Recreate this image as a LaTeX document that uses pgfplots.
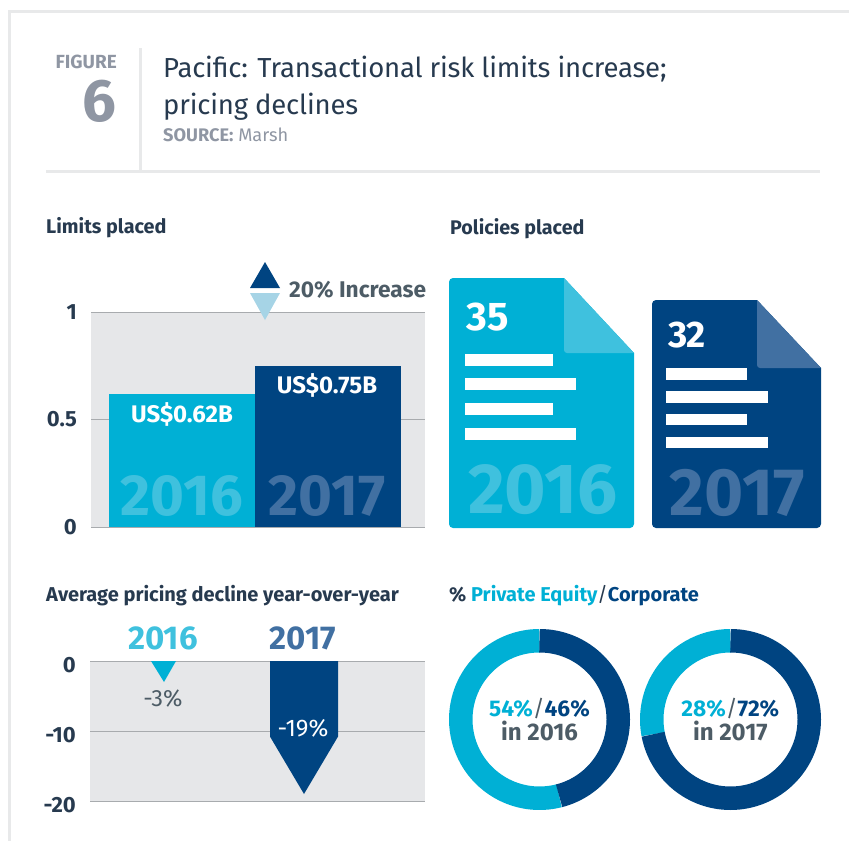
\documentclass[border=0pt]{standalone}
\usepackage{fontspec}
\setmainfont{Fira Sans}
\usepackage{pgfplots}
\pgfplotsset{compat=1.18}

\definecolor{pe}{HTML}{00B0D5}
\definecolor{corp}{HTML}{004481}
\definecolor{pelight}{HTML}{3FC1DE}
\definecolor{corplight}{HTML}{4170A2}
\definecolor{paleblue}{HTML}{A6D4E6}
\definecolor{ink}{HTML}{273A4F}
\definecolor{slate}{HTML}{4D5C66}
\definecolor{figgrey}{HTML}{8F96A3}
\definecolor{rulegrey}{HTML}{E8E9EA}
\definecolor{panel}{HTML}{E6E7E9}
\definecolor{gridgrey}{HTML}{A8ABAE}

\newcommand{\fs}[1]{\fontsize{#1}{#1}\selectfont}

\pgfplotsset{
  panel axis/.style={
    scale only axis, anchor=south west, axis on top=false,
    axis line style={draw=none}, major tick length=0pt,
    xtick=\empty, ymajorgrids,
    grid style={gridgrey, line width=1pt},
    axis background/.style={fill=panel},
    yticklabel style={font=\fs{22}\bfseries, text=ink, inner sep=0pt, xshift=-14pt},
  },
  ring axis/.style={
    scale only axis, anchor=south west, hide axis, clip=false,
    width=181pt, height=181pt,
    xmin=-90.5, xmax=90.5, ymin=-90.5, ymax=90.5,
  },
}

\tikzset{
  num/.style={inner sep=0pt, text depth=0pt, anchor=center},
  head/.style={inner sep=0pt, anchor=base west},
}

\begin{document}
\begin{tikzpicture}[x=1pt, y=-1pt]
\path[use as bounding box] (0,0) rectangle (849,841);

% frame and header rules
\fill[rulegrey] (8,10) rectangle (11,841);
\fill[rulegrey] (8,10) rectangle (849,13);
\fill[rulegrey] (139,48) rectangle (142,172);
\fill[rulegrey] (46,170) rectangle (820,173);

% header text
\node[inner sep=0pt, anchor=base east, text=figgrey] at (117,68) {\fs{19}\bfseries FIGURE};
\node[inner sep=0pt, anchor=base east, text=figgrey] at (117,121) {\fs{60}\bfseries 6};
\node[head, text=ink] at (163,77) {\fs{27.5}\addfontfeatures{LetterSpace=-0.7}Pacific: Transactional risk limits increase;};
\node[head, text=ink] at (163,114) {\fs{27.5}\addfontfeatures{LetterSpace=-0.7}pricing declines};
\node[head, text=figgrey] at (163,141) {\fs{18.2}\textbf{SOURCE:} Marsh};

% section headings
\node[head, text=ink] at (46,233) {\fs{19.8}\bfseries Limits placed};
\node[head, text=ink] at (450,234) {\fs{19.7}\bfseries Policies placed};
\node[head, text=ink] at (46,601) {\fs{20}\bfseries Average pricing decline year-over-year};
\node[head, text=ink] at (449,601) {\fs{20}\bfseries \% \textcolor{pe}{Private Equity}\textcolor{ink}{\mdseries/}\textcolor{corp}{Corporate}};

% limits placed
\begin{axis}[panel axis, at={(91pt,-527pt)}, width=334pt, height=215pt,
    xmin=0, xmax=334, ymin=0, ymax=1,
    ytick={0,0.5,1}, yticklabels={0,0.5,1}]
\addplot[ybar, bar width=146pt, fill=pe, draw=none] coordinates {(91,0.62)};
\addplot[ybar, bar width=146pt, fill=corp, draw=none] coordinates {(237,0.75)};
\end{axis}
\node[num, text=white] at (182,413) {\fs{24}\bfseries US\$0.62B};
\node[num, text=white] at (327,384) {\fs{24}\bfseries US\$0.75B};
\node[num, text=pelight] at (182,495) {\fs{58}\bfseries 2016};
\node[num, text=corplight] at (327,495) {\fs{58}\bfseries 2017};

% increase marker
\fill[corp] (250,288) -- (280,288) -- (265,262) -- cycle;
\fill[paleblue] (250,293) -- (280,293) -- (265,320) -- cycle;
\node[inner sep=0pt, anchor=base west, text=slate] at (289,297) {\fs{22.7}\bfseries 20\% Increase};

% policies placed
\fill[pe] (564,278) -- (634,353) -- (634,510) [rounded corners=4pt] -- (634,528) -- (449,528) -- (449,278) -- (530,278) [sharp corners] -- cycle;
\fill[pelight] (564,278) -- (634,353) [rounded corners=3pt] -- (564,353) [sharp corners] -- cycle;
\fill[white] (465,354) rectangle (553,366);
\fill[white] (465,378) rectangle (576,390);
\fill[white] (465,403) rectangle (553,415);
\fill[white] (465,428) rectangle (576,440);
\node[num, text=white] at (488,317) {\fs{40}\bfseries 35};
\node[num, text=pelight] at (543,489) {\fs{71}\bfseries 2016};

\fill[corp] (757,300) -- (821,368) -- (821,510) [rounded corners=4pt] -- (821,528) -- (652,528) -- (652,300) -- (720,300) [sharp corners] -- cycle;
\fill[corplight] (757,300) -- (821,368) [rounded corners=3pt] -- (757,368) [sharp corners] -- cycle;
\fill[white] (666,368) rectangle (747,380);
\fill[white] (666,391) rectangle (768,403);
\fill[white] (666,414) rectangle (747,425);
\fill[white] (666,437) rectangle (768,448);
\node[num, text=white] at (687,335) {\fs{37}\bfseries 32};
\node[num, text=corplight] at (737,492) {\fs{67}\bfseries 2017};

% average pricing decline
\begin{axis}[panel axis, at={(90pt,-801pt)}, width=335pt, height=140pt,
    xmin=0, xmax=335, ymin=-20, ymax=0,
    ytick={-20,-10,0}, yticklabels={-20,-10,0},
    yticklabel style={yshift=-4pt}]
\addplot[fill=pe, draw=none] coordinates {(61,0)(86,0)(74,-3)} -- cycle;
\addplot[fill=corp, draw=none] coordinates {(180,0)(248,0)(248,-10.8)(214,-19)(180,-10.8)} -- cycle;
\end{axis}
\node[num, text=pelight] at (163,638) {\fs{33}\bfseries 2016};
\node[num, text=corplight] at (303,638) {\fs{33}\bfseries 2017};
\node[num, text=slate] at (163,698) {\fs{23.5}-3\%};
\node[num, text=white] at (303,728) {\fs{24}-19\%};

% private equity / corporate rings
\begin{axis}[ring axis, at={(449pt,-810pt)}]
\draw[pe, line width=23.5pt] (axis cs:0,78.75) arc[start angle=90, delta angle={3.6*54}, radius=78.75pt];
\draw[corp, line width=23.5pt] (axis cs:0,78.75) arc[start angle=90, delta angle={-3.6*46}, radius=78.75pt];
\end{axis}
\begin{axis}[ring axis, at={(640pt,-810pt)}]
\draw[pe, line width=23.5pt] (axis cs:0,78.75) arc[start angle=90, delta angle={3.6*28}, radius=78.75pt];
\draw[corp, line width=23.5pt] (axis cs:0,78.75) arc[start angle=90, delta angle={-3.6*72}, radius=78.75pt];
\end{axis}
\node[num] at (539.5,707) {\fs{22.7}\bfseries\textcolor{pe}{54\%}\textcolor{slate}{\mdseries/}\textcolor{corp}{46\%}};
\node[num, text=slate] at (539.5,731) {\fs{24}\bfseries in 2016};
\node[num] at (730.3,707) {\fs{22.7}\bfseries\textcolor{pe}{28\%}\textcolor{slate}{\mdseries/}\textcolor{corp}{72\%}};
\node[num, text=slate] at (730.3,731) {\fs{24}\bfseries in 2017};
\end{tikzpicture}
\end{document}
